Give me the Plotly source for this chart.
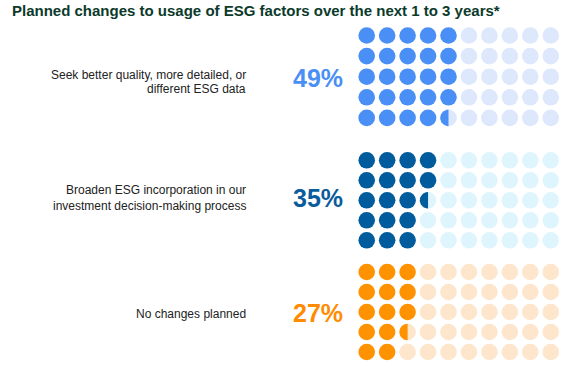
import numpy as np
import plotly.graph_objects as go

title = "Planned changes to usage of ESG factors over the next 1 to 3 years*"
categories = [
    "Seek better quality, more detailed, or<br>different ESG data",
    "Broaden ESG incorporation in our<br>investment decision-making process",
    "No changes planned",
]
values = [49, 35, 27]
fill_colors = ["#4a8ff5", "#005c9c", "#ff9200"]
empty_colors = ["#dde8fc", "#dff5fe", "#fde6cc"]
pct_colors = ["#4a8ff5", "#0a5c9c", "#ff8c00"]

# layout constants (page pixel coordinates)
W, H = 570, 366
n_cols, n_rows = 10, 5
x0 = 366.7
dx = 20.45
grid_tops = [35.5, 160.3, 272.0]
dys = [20.6, 20.0, 20.0]
dot_d = 16.6
label_right = 248
line_ys = [[75, 89], [190, 206], [314]]
pct_x = 291
pct_ys = [78, 198, 313]

fig = go.Figure()

for g, val in enumerate(values):
    units = val / 100 * n_cols * n_rows
    full = int(np.floor(units))
    frac = units - full
    fx, fy, ex, ey = [], [], [], []
    partial = None
    for c in range(n_cols):
        for r in range(n_rows):
            idx = c * n_rows + r
            cx = x0 + c * dx
            cy = grid_tops[g] + r * dys[g]
            if idx < full:
                fx.append(cx); fy.append(cy)
            else:
                ex.append(cx); ey.append(cy)
                if idx == full and frac > 0:
                    partial = (cx, cy)
    fig.add_trace(go.Scatter(x=ex, y=ey, mode="markers",
                             marker=dict(size=dot_d, color=empty_colors[g], line=dict(width=0)),
                             hoverinfo="skip", showlegend=False))
    fig.add_trace(go.Scatter(x=fx, y=fy, mode="markers",
                             marker=dict(size=dot_d, color=fill_colors[g], line=dict(width=0)),
                             hoverinfo="skip", showlegend=False))
    if partial is not None:
        cx, cy = partial
        rad = dot_d / 2
        cut = cx - rad + frac * 2 * rad
        th = np.linspace(0, 2 * np.pi, 121)
        px = np.minimum(cx + rad * np.cos(th), cut)
        py = cy + rad * np.sin(th)
        fig.add_trace(go.Scatter(x=px, y=py, mode="lines", fill="toself",
                                 fillcolor=fill_colors[g], line=dict(width=0, color=fill_colors[g]),
                                 hoverinfo="skip", showlegend=False))

    for line, ly in zip(categories[g].split("<br>"), line_ys[g]):
        fig.add_annotation(x=label_right, y=ly, xref="x", yref="y", text=line,
                           showarrow=False, xanchor="right", yanchor="middle",
                           font=dict(family="Liberation Sans, Arial", size=12, color="#222222"))
    fig.add_annotation(x=pct_x, y=pct_ys[g], xref="x", yref="y", text=f"<b>{val}%</b>",
                       showarrow=False, xanchor="left", yanchor="middle",
                       font=dict(family="Liberation Sans, Arial", size=25, color=pct_colors[g]))

fig.add_annotation(x=10, y=10, xref="x", yref="y", text=f"<b>{title}</b>",
                   showarrow=False, xanchor="left", yanchor="middle",
                   font=dict(family="Liberation Sans, Arial", size=15, color="#0b3a2a"))

fig.update_layout(
    width=W, height=H, margin=dict(l=0, r=0, t=0, b=0),
    paper_bgcolor="white", plot_bgcolor="white",
    xaxis=dict(range=[0, W], visible=False, fixedrange=True),
    yaxis=dict(range=[H, 0], visible=False, fixedrange=True),
)
fig.write_html("out.html", config={"displayModeBar": False, "staticPlot": True},
               post_script="document.body.style.margin='0';document.body.style.overflow='hidden';")
